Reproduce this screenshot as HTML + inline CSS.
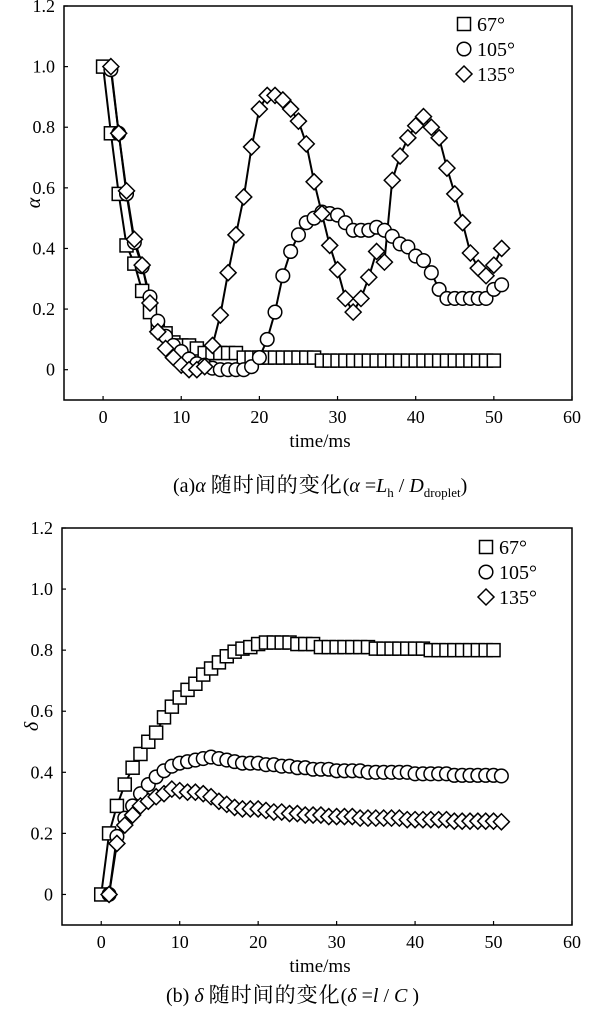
<!DOCTYPE html>
<html><head><meta charset="utf-8"><style>
body{margin:0;background:#fff;width:611px;height:1010px;overflow:hidden}
svg{display:block}
text{font-family:"Liberation Serif","Noto Serif CJK SC",serif;fill:#000}
</style></head><body>
<svg id="s" width="611" height="1010" viewBox="0 0 611 1010" xmlns="http://www.w3.org/2000/svg"></svg>
<script>
const ticksX=[0,10,20,30,40,50,60];
const ticksY=[0,0.2,0.4,0.6,0.8,1.0,1.2];
const tickLabelsY=["0","0.2","0.4","0.6","0.8","1.0","1.2"];
const legendLabels=["67°","105°","135°"];
// chart a
const aSq=[1.0,0.78,0.58,0.41,0.35,0.26,0.19,0.14,0.12,0.09,0.08,0.08,0.07,0.055,0.055,0.055,0.055,0.055,0.04,0.04,0.04,0.04,0.04,0.04,0.04,0.04,0.04,0.04,0.03,0.03,0.03,0.03,0.03,0.03,0.03,0.03,0.03,0.03,0.03,0.03,0.03,0.03,0.03,0.03,0.03,0.03,0.03,0.03,0.03,0.03,0.03];
const aCi=[0.99,0.78,0.58,0.42,0.34,0.24,0.16,0.11,0.08,0.06,0.035,0.02,0.015,0.005,0,0,0,0,0.01,0.04,0.1,0.19,0.31,0.39,0.445,0.485,0.5,0.52,0.515,0.51,0.485,0.46,0.46,0.46,0.47,0.46,0.44,0.415,0.405,0.375,0.36,0.32,0.265,0.235,0.235,0.235,0.235,0.235,0.235,0.265,0.28];
const aDi=[1.0,0.78,0.59,0.43,0.345,0.22,0.125,0.07,0.04,0.015,0,0,0.01,0.08,0.18,0.32,0.445,0.57,0.735,0.86,0.905,0.905,0.89,0.86,0.82,0.745,0.62,0.515,0.41,0.33,0.235,0.19,0.235,0.305,0.39,0.355,0.625,0.705,0.765,0.805,0.835,0.8,0.765,0.665,0.58,0.485,0.385,0.335,0.31,0.345,0.4];
// chart b
const bSq=[0,0.2,0.29,0.36,0.415,0.46,0.5,0.53,0.58,0.615,0.645,0.67,0.69,0.72,0.74,0.76,0.78,0.795,0.805,0.81,0.82,0.825,0.825,0.825,0.825,0.82,0.82,0.82,0.81,0.81,0.81,0.81,0.81,0.81,0.81,0.805,0.805,0.805,0.805,0.805,0.805,0.805,0.8,0.8,0.8,0.8,0.8,0.8,0.8,0.8,0.8];
const bCi=[0,0.19,0.25,0.29,0.33,0.36,0.385,0.405,0.42,0.43,0.435,0.44,0.445,0.45,0.445,0.44,0.435,0.43,0.43,0.43,0.425,0.425,0.42,0.42,0.415,0.415,0.41,0.41,0.41,0.405,0.405,0.405,0.405,0.4,0.4,0.4,0.4,0.4,0.4,0.395,0.395,0.395,0.395,0.395,0.39,0.39,0.39,0.39,0.39,0.39,0.388];
const bDi=[0,0.167,0.227,0.26,0.29,0.305,0.32,0.33,0.345,0.34,0.335,0.335,0.33,0.32,0.305,0.295,0.285,0.28,0.28,0.28,0.275,0.27,0.27,0.265,0.265,0.26,0.26,0.26,0.255,0.255,0.255,0.255,0.25,0.25,0.25,0.25,0.25,0.25,0.245,0.245,0.245,0.245,0.245,0.245,0.24,0.24,0.24,0.24,0.24,0.24,0.238];

const NS="http://www.w3.org/2000/svg";
const svg=document.getElementById('s');
function mk(tag,attrs,parent){const e=document.createElementNS(NS,tag);for(const k in attrs)e.setAttribute(k,attrs[k]);(parent||svg).appendChild(e);return e;}

function chart(cfg){
  const g=mk('g',{});
  
  
  const L=cfg.left,R=572,T=cfg.top,B=cfg.bottom;
  const X=v=>L+(v+5)/65*(R-L);
  const Y=v=>B-(v+0.1)/1.3*(B-T);
  const frame=mk('rect',{x:L,y:T,width:R-L,height:B-T,fill:'none',stroke:'#000','stroke-width':1.5},g);
  
  
  ticksX.forEach(v=>{
    mk('line',{x1:X(v),x2:X(v),y1:B,y2:B-4,stroke:'#000','stroke-width':1.2},g);
    const t=mk('text',{x:X(v),y:B+23,'text-anchor':'middle','font-size':18},g);
    t.textContent=v;
    
    
  });
  ticksY.forEach((v,i)=>{
    mk('line',{x1:L,x2:L+4,y1:Y(v),y2:Y(v),stroke:'#000','stroke-width':1.2},g);
    const t=mk('text',{x:L-9,y:Y(v)+6,'text-anchor':'end','font-size':18},g);
    t.textContent=tickLabelsY[i];
    
    
  });
  const xt=mk('text',{x:320,y:B+47,'text-anchor':'middle','font-size':19},g);
  xt.textContent='time/ms';
  
  
  const yt=mk('text',{x:0,y:0,'text-anchor':'middle','font-size':20,'font-style':'italic',transform:`translate(${cfg.left-24},${(T+B)/2}) rotate(-90)`},g);
  yt.textContent=cfg.ylab;
  
  
  const series=[[cfg.sq,0,'sq'],[cfg.ci,1,'ci'],[cfg.di,1,'di']];
  series.forEach(([arr,off,type])=>{
    const pts=arr.map((v,i)=>X(i+off).toFixed(1)+','+Y(v).toFixed(1)).join(' ');
    const pl=mk('polyline',{points:pts,fill:'none',stroke:'#000','stroke-width':2},g);
    
    
  });
  series.forEach(([arr,off,type])=>{
    arr.forEach((v,i)=>{
      const m=marker(g,type,X(i+off),Y(v));
      
      
    });
  });
  const lg=mk('g',{},g);
  
  
  ['sq','ci','di'].forEach((tp,i)=>{
    const ly=T+cfg.legY+i*25;
    const m=marker(lg,tp,cfg.legX,ly);
    
    
    const t=mk('text',{x:cfg.legX+13,y:ly+7,'font-size':20},lg);
    t.textContent=legendLabels[i];
    
    
  });
  const cap=mk('text',{x:cfg.capX,y:cfg.capY,'font-size':20},g);
  cap.innerHTML=cfg.cap;
  
  
}
function marker(g,type,x,y){
  if(type==='sq')return mk('rect',{x:x-6.5,y:y-6.5,width:13,height:13,fill:'#fff',stroke:'#000','stroke-width':1.5},g);
  if(type==='ci')return mk('circle',{cx:x,cy:y,r:6.8,fill:'#fff',stroke:'#000','stroke-width':1.5},g);
  return mk('polygon',{points:`${x},${y-8} ${x+8},${y} ${x},${y+8} ${x-8},${y}`,fill:'#fff',stroke:'#000','stroke-width':1.5},g);
}
chart({name:'chart-alpha',left:64,top:6,bottom:400,sq:aSq,ci:aCi,di:aDi,ylab:'α',legX:464,legY:18,capX:173,capY:492,
  cap:'(a)<tspan font-style="italic">α</tspan> <tspan letter-spacing="1" font-size="21">随时间的变化</tspan>(<tspan font-style="italic">α</tspan> =<tspan font-style="italic">L</tspan><tspan font-size="13" dy="5">h</tspan><tspan dy="-5"> / </tspan><tspan font-style="italic">D</tspan><tspan font-size="13" dy="5">droplet</tspan><tspan dy="-5">)</tspan>'});
chart({name:'chart-delta',left:62,top:528,bottom:925,sq:bSq,ci:bCi,di:bDi,ylab:'δ',legX:486,legY:19,capX:166,capY:1002,
  cap:'(b) <tspan font-style="italic">δ</tspan> <tspan letter-spacing="1" font-size="21">随时间的变化</tspan>(<tspan font-style="italic">δ</tspan> =<tspan font-style="italic">l</tspan> / <tspan font-style="italic">C</tspan> )'});
</script>
</body></html>
